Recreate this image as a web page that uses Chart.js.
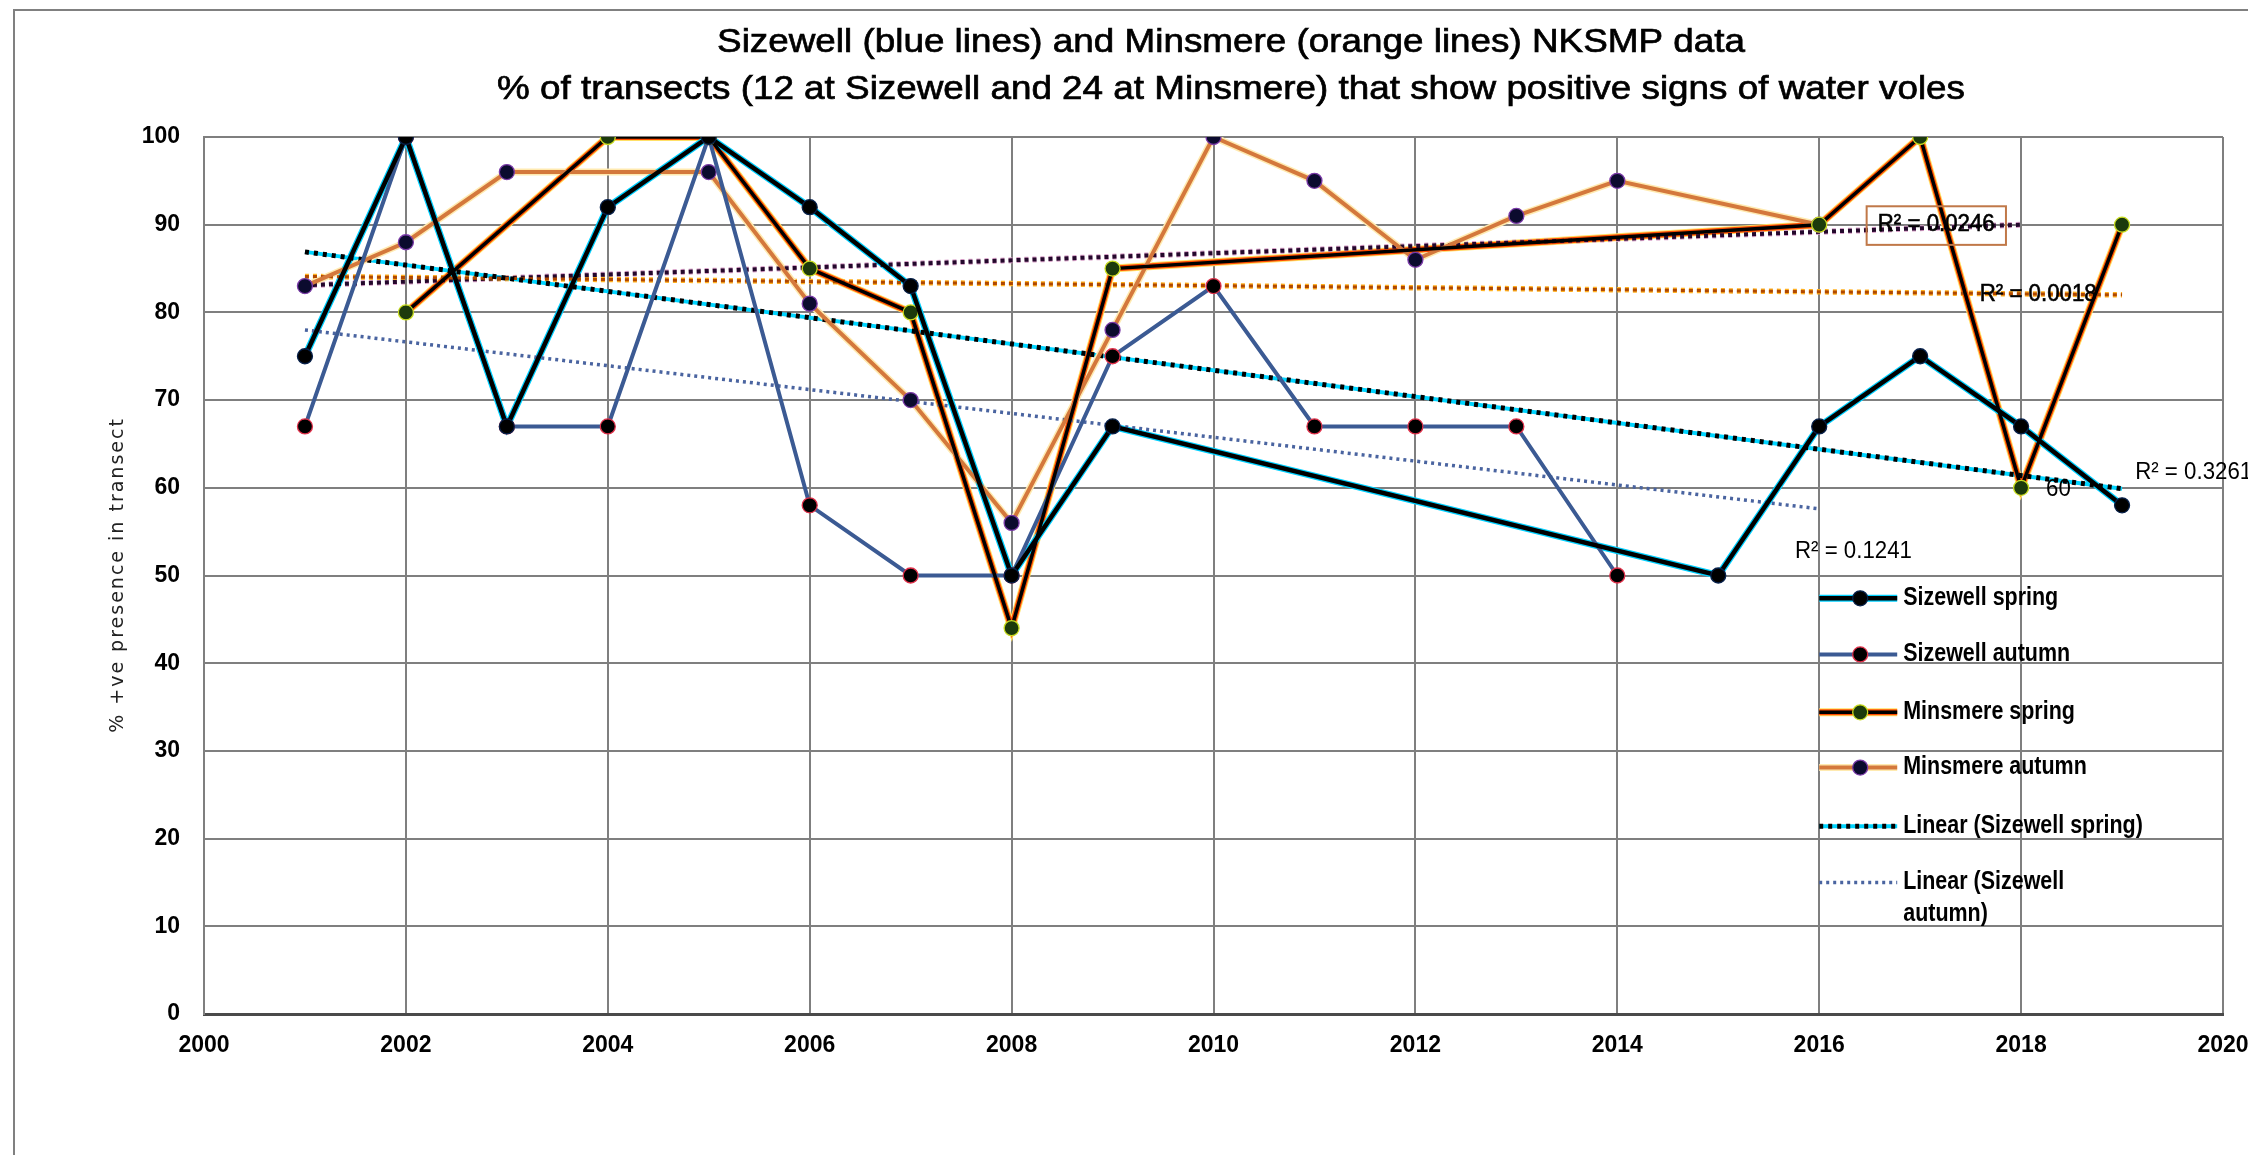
<!DOCTYPE html>
<html lang="en">
<head>
  <meta charset="UTF-8" />
  <title>Sizewell and Minsmere NKSMP data</title>
  <script src="https://cdn.jsdelivr.net/npm/chart.js"></script>
  <style>
    html, body { margin: 0; padding: 0; background: #fff; overflow: hidden; }
    .wrap { position: relative; width: 2248px; height: 1155px; }
  </style>
</head>
<body>
  <div class="wrap"><canvas id="voleChart"></canvas></div>

  <script>
    // survey years and % of transects with signs of water voles (null = no survey)
    const years = [2001, 2002, 2003, 2004, 2005, 2006, 2007, 2008, 2009, 2010,
                   2011, 2012, 2013, 2014, 2015, 2016, 2017, 2018, 2019];
    const sizewellSpring = [75, 100, 67, 92, 100, 92, 83, 50, 67, null,
                            null, null, null, null, 50, 67, 75, 67, 58];
    const sizewellAutumn = [67, 100, 67, 67, 100, 58, 50, 50, 75, 83,
                            67, 67, 67, 50, null, null, null, null, null];
    const minsmereSpring = [null, 80, null, 100, 100, 85, 80, 44, 85, null,
                            null, null, null, null, null, 90, 100, 60, 90];
    const minsmereAutumn = [83, 88, 96, null, 96, 81, 70, 56, 78, 100,
                            95, 86, 91, 95, null, 90, null, null, null];

    // linear trend lines (end points)
    const sizewellSpringTrendYears = [2001, 2019];
    const sizewellSpringTrend = [86.9, 59.9];
    const sizewellAutumnTrendYears = [2001, 2016];
    const sizewellAutumnTrend = [78.0, 57.6];
    const minsmereSpringTrendYears = [2001, 2019];
    const minsmereSpringTrend = [84.1, 82.0];
    const minsmereAutumnTrendYears = [2001, 2018];
    const minsmereAutumnTrend = [83.1, 90.0];
    const rSquared = ['R² = 0.3261', 'R² = 0.1241', 'R² = 0.0018', 'R² = 0.0246'];

    const xTickStep = 2;
    const yTickStep = 10;

    const titleLines = [
      'Sizewell (blue lines) and Minsmere (orange lines) NKSMP data',
      '% of transects (12 at Sizewell and 24 at Minsmere) that show positive signs of water voles'
    ];
    const yAxisTitle = '% +ve presence in transect';
    const legendLabels = ['Sizewell spring', 'Sizewell autumn', 'Minsmere spring',
                          'Minsmere autumn', 'Linear (Sizewell spring)', 'Linear (Sizewell\nautumn)'];

    const sans = '"Liberation Sans", Arial, sans-serif';

    // line styles: stacked strokes, widest first
    const styles = {
      sizewellSpring: { layers: [['#00d0ff', 7], ['#000000', 4.5]], bg: '#000000', border: '#07204a' },
      sizewellAutumn: { layers: [['#3b5a93', 4]], bg: '#000000', border: '#e0304a' },
      minsmereSpring: { layers: [['#ffe066', 8], ['#ff4c00', 6], ['#000000', 3.5]], bg: '#1c3a0c', border: '#c8dc20' },
      minsmereAutumn: { layers: [['#ffeab0', 7], ['#d4783c', 4]], bg: '#0b0b2e', border: '#7a3aa8' },
      sizewellSpringTrend: { layers: [['#00d4ff', 4, []], ['#000000', 5, [4, 5]]] },
      sizewellAutumnTrend: { layers: [['#4a64a0', 3.5, [3, 4]]] },
      minsmereSpringTrend: { layers: [['#ffb020', 5.5, [4, 4]], ['#b04800', 3, [4, 4]]] },
      minsmereAutumnTrend: { layers: [['#d8a0c8', 6, [4, 4]], ['#24082c', 4, [4, 4]]] }
    };
    const markerRadius = 7.5;

    function points(xs, ys) {
      return xs.map((x, i) => ({ x: x, y: ys[i] })).filter(p => p.y !== null);
    }

    const datasets = [];
    function addSeries(key, data, order, withPoints) {
      const st = styles[key];
      st.layers.forEach((layer, i) => {
        const top = i === st.layers.length - 1;
        datasets.push({
          label: key + (top ? '' : '-under' + i),
          data: data,
          borderColor: layer[0],
          borderWidth: layer[1],
          borderDash: layer[2] || [],
          borderCapStyle: 'butt',
          tension: 0,
          fill: false,
          order: order + (st.layers.length - 1 - i) * 100,
          pointRadius: top && withPoints ? markerRadius : 0,
          pointBackgroundColor: st.bg,
          pointBorderColor: st.border,
          pointBorderWidth: 1.3
        });
      });
    }

    addSeries('sizewellSpring', points(years, sizewellSpring), 1, true);
    addSeries('minsmereSpring', points(years, minsmereSpring), 2, true);
    addSeries('sizewellAutumn', points(years, sizewellAutumn), 3, true);
    addSeries('minsmereAutumn', points(years, minsmereAutumn), 4, true);
    addSeries('sizewellSpringTrend', points(sizewellSpringTrendYears, sizewellSpringTrend), 20, false);
    addSeries('sizewellAutumnTrend', points(sizewellAutumnTrendYears, sizewellAutumnTrend), 21, false);
    addSeries('minsmereSpringTrend', points(minsmereSpringTrendYears, minsmereSpringTrend), 22, false);
    addSeries('minsmereAutumnTrend', points(minsmereAutumnTrendYears, minsmereAutumnTrend), 23, false);

    // text squeezed sideways to get the narrow look of the original
    function squeezed(ctx, text, x, y, sx, stroke) {
      ctx.save();
      ctx.translate(x, y);
      ctx.scale(sx, 1);
      ctx.fillText(text, 0, 0);
      if (stroke) {
        ctx.lineWidth = stroke;
        ctx.strokeStyle = ctx.fillStyle;
        ctx.strokeText(text, 0, 0);
      }
      ctx.restore();
    }

    function strokeSample(ctx, x0, x1, y, st) {
      st.layers.forEach(layer => {
        ctx.beginPath();
        ctx.setLineDash(layer[2] || []);
        ctx.strokeStyle = layer[0];
        ctx.lineWidth = layer[1];
        ctx.moveTo(x0, y);
        ctx.lineTo(x1, y);
        ctx.stroke();
      });
      ctx.setLineDash([]);
      if (st.bg) {
        ctx.beginPath();
        ctx.arc((x0 + x1) / 2 + 2, y, markerRadius, 0, Math.PI * 2);
        ctx.fillStyle = st.bg;
        ctx.fill();
        ctx.lineWidth = 1.3;
        ctx.strokeStyle = st.border;
        ctx.stroke();
      }
    }

    const decor = {
      id: 'decor',
      afterDraw(chart) {
        const ctx = chart.ctx;
        const X = chart.scales.x, Y = chart.scales.y;
        ctx.save();

        // outer chart border (runs off the picture to the right and bottom)
        ctx.strokeStyle = '#808080';
        ctx.lineWidth = 2;
        ctx.beginPath();
        ctx.moveTo(14, 1160);
        ctx.lineTo(14, 10);
        ctx.lineTo(2260, 10);
        ctx.stroke();

        // title
        ctx.fillStyle = '#000';
        ctx.textAlign = 'center';
        ctx.textBaseline = 'alphabetic';
        ctx.font = '33px ' + sans;
        const tsx = 1468 / ctx.measureText(titleLines[1]).width;
        squeezed(ctx, titleLines[0], 1231, 52, tsx, 0.7);
        squeezed(ctx, titleLines[1], 1231, 99, tsx, 0.7);

        // y axis title
        ctx.save();
        ctx.translate(118, 575);
        ctx.rotate(-Math.PI / 2);
        ctx.font = '19px "DejaVu Sans", sans-serif';
        ctx.letterSpacing = '2px';
        ctx.textBaseline = 'middle';
        ctx.fillStyle = '#222';
        ctx.fillText(yAxisTitle, 0, 0);
        ctx.restore();

        // R² labels
        ctx.font = '24px ' + sans;
        ctx.textAlign = 'left';
        ctx.textBaseline = 'middle';
        ctx.fillStyle = '#000';
        const rsx = 117 / ctx.measureText(rSquared[1]).width;
        squeezed(ctx, rSquared[0], X.getPixelForValue(2019.13), Y.getPixelForValue(61.8), rsx);
        squeezed(ctx, rSquared[1], X.getPixelForValue(2015.76), Y.getPixelForValue(52.7), rsx);
        squeezed(ctx, rSquared[2], X.getPixelForValue(2017.59), Y.getPixelForValue(82.0), rsx, 0.6);
        squeezed(ctx, rSquared[3], X.getPixelForValue(2016.58), Y.getPixelForValue(90.0), rsx, 0.6);
        const bx0 = X.getPixelForValue(2016.47), bx1 = X.getPixelForValue(2017.85);
        const by0 = Y.getPixelForValue(92.1), by1 = Y.getPixelForValue(87.7);
        ctx.strokeStyle = '#c07848';
        ctx.lineWidth = 2;
        ctx.strokeRect(bx0, by0, bx1 - bx0, by1 - by0);

        // data label on Minsmere spring 2018
        const i18 = years.indexOf(2018);
        squeezed(ctx, String(minsmereSpring[i18]), X.getPixelForValue(2018) + 25,
                 Y.getPixelForValue(minsmereSpring[i18]) + 2, rsx);

        // legend inside the plot
        const keys = ['sizewellSpring', 'sizewellAutumn', 'minsmereSpring', 'minsmereAutumn',
                      'sizewellSpringTrend', 'sizewellAutumnTrend'];
        const rowValues = [47.4, 41.0, 34.4, 28.1, 21.4, 15.0];
        const lx0 = X.getPixelForValue(2016);
        ctx.font = 'bold 25px ' + sans;
        const lsx = 155 / ctx.measureText(legendLabels[0]).width;
        keys.forEach((k, i) => {
          const y = Y.getPixelForValue(rowValues[i]);
          strokeSample(ctx, lx0, lx0 + 78, y, styles[k]);
          ctx.fillStyle = '#000';
          legendLabels[i].split('\n').forEach((line, j) => {
            squeezed(ctx, line, lx0 + 84, y + j * 32, lsx);
          });
        });

        ctx.restore();
      }
    };

    new Chart(document.getElementById('voleChart'), {
      type: 'line',
      data: { datasets: datasets },
      options: {
        responsive: true,
        maintainAspectRatio: false,
        animation: false,
        layout: { padding: { left: 0, right: 25, top: 137, bottom: 81 } },
        plugins: { legend: { display: false }, tooltip: { enabled: false }, title: { display: false } },
        scales: {
          x: {
            type: 'linear',
            min: 2000,
            max: 2020,
            afterFit(scale) {
              scale.height = 60;
              scale.paddingLeft = 0;
              scale.paddingRight = 0;
            },
            ticks: {
              stepSize: xTickStep,
              padding: 18,
              color: '#000',
              font: { family: sans, size: 23, weight: 'bold' },
              callback: v => String(v)
            },
            grid: { color: '#7f7f7f', lineWidth: 2, drawTicks: false },
            border: { color: '#4a4a4a', width: 3 }
          },
          y: {
            min: 0,
            max: 100,
            afterFit(scale) {
              scale.width = 204;
              scale.paddingTop = 0;
              scale.paddingBottom = 0;
            },
            ticks: {
              stepSize: yTickStep,
              padding: 24,
              color: '#000',
              font: { family: sans, size: 23, weight: 'bold' }
            },
            grid: { color: '#7f7f7f', lineWidth: 2, drawTicks: false },
            border: { color: '#7f7f7f', width: 2 }
          }
        }
      },
      plugins: [decor]
    });
  </script>
</body>
</html>
